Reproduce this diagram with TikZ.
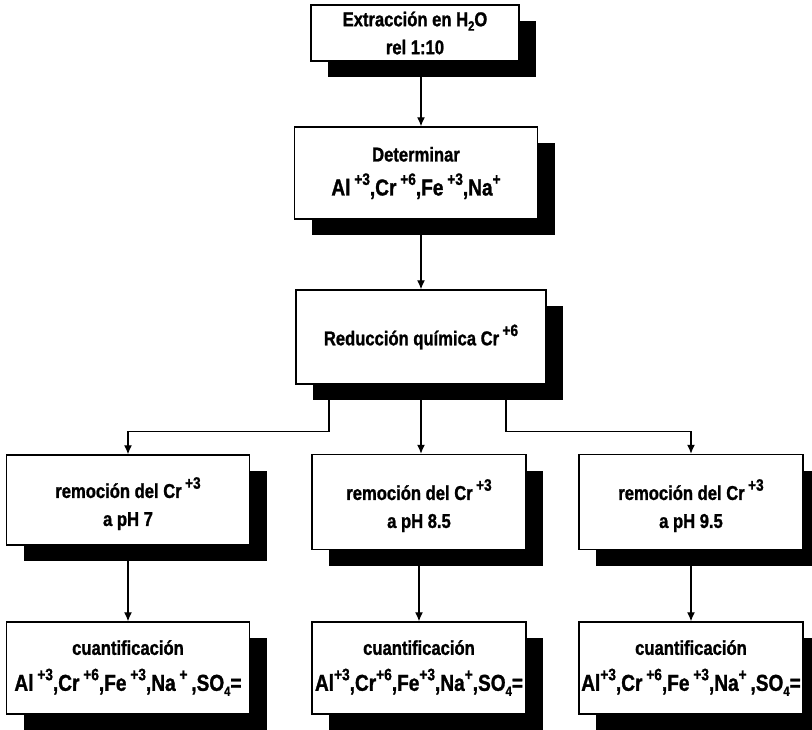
\documentclass[tikz,border=0pt]{standalone}
\usepackage{fontspec}
\setmainfont[FakeStretch=0.83,BoldFeatures={FakeBold=1.2}]{Liberation Sans}
\usetikzlibrary{arrows.meta,shadows}
\newcommand{\ox}[1]{\raisebox{0.46em}{\fontsize{16.5}{16}\selectfont #1}}
\newcommand{\subi}[1]{\raisebox{-0.22em}{\fontsize{13.5}{13}\selectfont #1}}
\newcommand{\grande}{\fontsize{23}{26}\selectfont}
\tikzset{
  caja/.style={draw, line width=1.4pt, fill=white, align=center, inner sep=0pt,
    font=\fontsize{20}{24}\selectfont\bfseries,
    drop shadow={shadow xshift=17pt, shadow yshift=-16pt, fill=black, opacity=1}},
  flecha/.style={line width=1.3pt, -{Latex[length=9pt,width=8pt]}}
}
\begin{document}
\begin{tikzpicture}[x=1pt,y=-1pt]
\useasboundingbox (0,0) rectangle (812,730);
  \node[caja,minimum width=208pt,minimum height=56pt]	(ext) at (415,33)	{Extracción en H\subi{2}O\\[4pt] rel 1:10};
  \node[caja,minimum width=243pt,minimum height=92pt]	(det) at (416,173)	{Determinar\\[10pt] {\grande Al\,\ox{+3},Cr\,\ox{+6},Fe\,\ox{+3},Na\ox{+}}};
  \node[caja,minimum width=250pt,minimum height=94pt]	(red) at (421,337)	{Reducción química Cr\,\ox{+6}};
  % pH
  \node[caja,minimum width=243pt,minimum height=90pt]	(rl) at (128,500)	{\rule{0pt}{28pt}remoción del Cr\,\ox{+3}\\[4pt] a pH 7};
  \node[caja,minimum width=214pt,minimum height=95pt]	(rm) at (419,502)	{\rule{0pt}{28pt}remoción del Cr\,\ox{+3}\\[4pt] a pH 8.5};
  \node[caja,minimum width=224pt,minimum height=95pt]	(rr) at (691,502)	{\rule{0pt}{28pt}remoción del Cr\,\ox{+3}\\[4pt] a pH 9.5};
  % cuantificacion
  \node[caja,minimum width=243pt,minimum height=92pt]	(ql) at (128,668)	{cuantificación\\[12pt] {\grande Al\,\ox{+3},Cr\,\ox{+6},Fe\,\ox{+3},Na\,\ox{+}\,,SO\subi{4}=}};
  \node[caja,minimum width=214pt,minimum height=92pt]	(qm) at (419,668)	{cuantificación\\[12pt] {\grande Al\ox{+3},Cr\ox{+6},Fe\ox{+3},Na\ox{+},SO\subi{4}=}};
  \node[caja,minimum width=224pt,minimum height=92pt]	(qr) at (691,668)	{cuantificación\\[12pt] {\grande Al\ox{+3},Cr\,\ox{+6},Fe\,\ox{+3},Na\ox{+}\,,SO\subi{4}=}};

 \draw[flecha] (ext.south -| red) -- (det.north -| red);
 \draw[flecha] (det.south -| red) -- (red.north);
 \draw[flecha] (red.south) -- (red.south |- rm.north);
 \draw[flecha] ([xshift=-92pt]red.south) -- ++(0,47) -| (rl.north);
 \draw[flecha] ([xshift=85pt]red.south) -- ++(0,47) -| (rr.north);
 \draw[flecha] (rl) -- (ql);
 \draw[flecha] (rm) -- (qm);
 \draw[flecha] (rr) -- (qr);
\end{tikzpicture}
\end{document}
